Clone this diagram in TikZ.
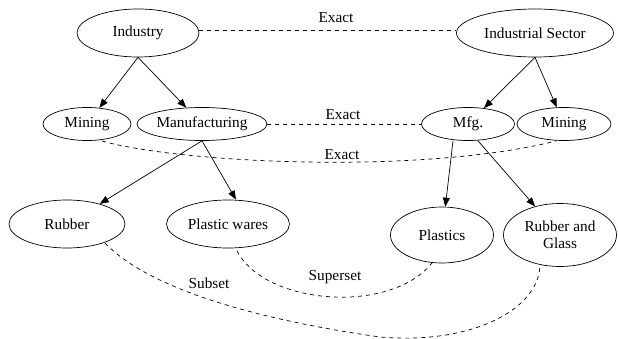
\documentclass[tikz,border=0pt]{standalone}
\usepackage{fontspec}
\setmainfont{Liberation Serif}
\newfontfamily\tnr{Liberation Serif}
\usetikzlibrary{shapes.geometric,arrows.meta}
\begin{document}
\begin{tikzpicture}[x=1pt,y=-1pt,
  ell/.style={draw,ellipse,inner sep=0pt,line width=0.7pt,font=\tnr\fontsize{15.3}{17}\selectfont,align=center},
  arr/.style={line width=0.7pt,-{Triangle[length=9pt,width=7pt]}},
  dsh/.style={line width=0.7pt,dash pattern=on 4pt off 4pt},
  lbl/.style={font=\tnr\fontsize{15.3}{17}\selectfont,inner sep=0pt}]
\useasboundingbox (0,0) rectangle (618,339);
\node[ell,minimum width=122pt,minimum height=48pt] (ind) at (138,33) {Industry};
\node[ell,minimum width=157pt,minimum height=48pt] (is) at (535,33) {Industrial Sector};
\node[ell,minimum width=88pt,minimum height=33pt] (min1) at (87,124) {Mining};
\node[ell,minimum width=130pt,minimum height=33pt] (manu) at (202,124) {Manufacturing};
\node[ell,minimum width=93pt,minimum height=33pt] (mfg) at (468,124) {Mfg.};
\node[ell,minimum width=94pt,minimum height=33pt] (min2) at (564,124) {Mining};
\node[ell,minimum width=116pt,minimum height=48pt] (rub) at (67,224) {Rubber};
\node[ell,minimum width=123pt,minimum height=48pt] (pw) at (228,224) {Plastic wares};
\node[ell,minimum width=103pt,minimum height=56pt] (pl) at (442,235) {Plastics};
\node[ell,minimum width=113pt,minimum height=63pt] (rg) at (560,235) {Rubber and\\Glass};
% tree edges
\draw[arr] (ind.south) -- (min1);
\draw[arr] (ind.south) -- (manu);
\draw[arr] (is.south) -- (mfg);
\draw[arr] (is.south) -- (min2);
\draw[arr] (manu.south) -- (rub);
\draw[arr] (manu.south) -- ([xshift=8pt]pw.north);
\draw[arr] ([xshift=-15pt]mfg.south) -- (pl);
\draw[arr] ([xshift=10pt]mfg.south) -- (rg);
% mappings
\draw[dsh] ([yshift=3pt]ind.east) -- ([yshift=3pt]is.west);
\node[lbl] (e1) at (336,18) {Exact};
\draw[dsh] (manu.east) -- (mfg.west);
\node[lbl] (e2) at (343,115) {Exact};
\coordinate (m1) at (102,141);
\coordinate (m2) at (556,141);
\draw[dsh] (m1) .. controls (180,163) and (420,175) .. (m2);
\node[lbl] (e3) at (342,155) {Exact};
\coordinate (s1) at (105,243);
\coordinate (s2) at (540,264);
\draw[dsh] (s1) .. controls (150,290) and (260,320) .. (380,337) .. controls (470,345) and (540,310) .. (s2);
\node[lbl] (sub) at (209,283) {Subset};
\coordinate (p1) at (237,251);
\coordinate (p2) at (432,263);
\draw[dsh] (p1) .. controls (265,305) and (390,315) .. (p2);
\node[lbl] (sup) at (335,277) {Superset};
\end{tikzpicture}
\end{document}
